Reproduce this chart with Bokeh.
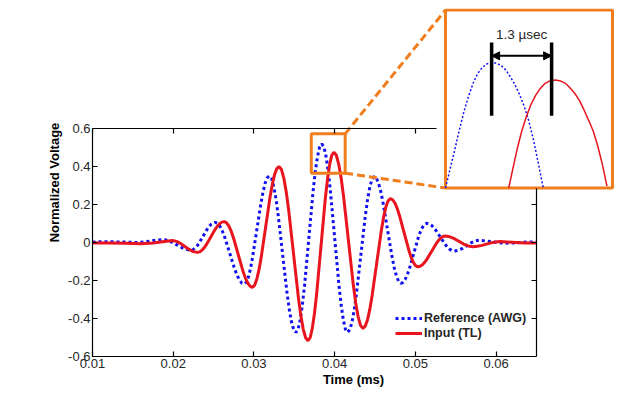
from bokeh.plotting import figure
from bokeh.models import (Range1d, LinearAxis, FixedTicker, Label, Arrow, NormalHead)
from bokeh.embed import file_html
from bokeh.resources import INLINE

# ---------------- data ----------------
ref_t = [0.0100, 0.0120, 0.0140, 0.0155, 0.0165, 0.0175, 0.0187, 0.01899, 0.01928, 0.01958,
         0.01987, 0.02045, 0.02103, 0.02133, 0.02162, 0.02191, 0.0222, 0.02245, 0.0227, 0.02295,
         0.0232, 0.0237, 0.0242, 0.02445, 0.0247, 0.02495, 0.0252, 0.0255, 0.0258, 0.0261,
         0.0264, 0.0270, 0.0276, 0.0279, 0.0282, 0.0285, 0.0288, 0.02906, 0.02932, 0.02958,
         0.02983, 0.03035, 0.03087, 0.03113, 0.03138, 0.03164, 0.0319, 0.03218, 0.03245, 0.03273,
         0.0330, 0.03355, 0.0341, 0.03438, 0.03465, 0.03493, 0.0352, 0.03547, 0.03573, 0.0360,
         0.03627, 0.0368, 0.03733, 0.0376, 0.03787, 0.03813, 0.0384, 0.03867, 0.03893, 0.0392,
         0.03947, 0.0400, 0.04053, 0.0408, 0.04107, 0.04133, 0.0416, 0.04188, 0.04215, 0.04243,
         0.0427, 0.04325, 0.0438, 0.04408, 0.04435, 0.04463, 0.0449, 0.04518, 0.04545, 0.04573,
         0.0460, 0.04655, 0.0471, 0.04738, 0.04765, 0.04793, 0.0482, 0.04847, 0.04873, 0.0490,
         0.04927, 0.0498, 0.05033, 0.0506, 0.05087, 0.05113, 0.0514, 0.05168, 0.05197, 0.05225,
         0.05253, 0.0531, 0.05367, 0.05395, 0.05423, 0.05452, 0.0548, 0.05532, 0.05583, 0.05635,
         0.05687, 0.05738, 0.0579, 0.0595, 0.0610, 0.0625, 0.0640, 0.0650]
ref_v = [0.003, 0.004, 0.002, 0.000, 0.004, 0.010, 0.015, 0.0141, 0.011, 0.007,
         0.001, -0.0125, -0.026, -0.032, -0.036, -0.039, -0.040, -0.0375, -0.030, -0.0187,
         -0.0035, 0.033, 0.0695, 0.0847, 0.096, 0.1035, 0.106, 0.1005, 0.084, 0.0585,
         0.025, -0.0565, -0.138, -0.1716, -0.197, -0.2135, -0.219, -0.2093, -0.181, -0.1359,
         -0.077, 0.0655, 0.208, 0.2669, 0.312, 0.3403, 0.350, 0.336, 0.295, 0.2298,
         0.144, -0.0615, -0.267, -0.3528, -0.418, -0.459, -0.473, -0.456, -0.407, -0.328,
         -0.225, 0.023, 0.271, 0.374, 0.4525, 0.502, 0.519, 0.502, 0.453, 0.374,
         0.271, 0.023, -0.225, -0.328, -0.407, -0.456, -0.473, -0.459, -0.418, -0.353,
         -0.268, -0.063, 0.142, 0.2273, 0.292, 0.333, 0.347, 0.3374, 0.309, 0.265,
         0.2065, 0.066, -0.0745, -0.133, -0.177, -0.2054, -0.215, -0.2096, -0.194, -0.1689,
         -0.136, -0.057, 0.022, 0.0549, 0.080, 0.0956, 0.101, 0.0985, 0.091, 0.0797,
         0.0645, 0.028, -0.0085, -0.0237, -0.035, -0.0425, -0.045, -0.041, -0.031, -0.0165,
         -0.002, 0.008, 0.012, 0.004, -0.004, -0.002, 0.003, 0.002]

inp_t = [0.0100, 0.0120, 0.0140, 0.0160, 0.0175, 0.0187, 0.0199, 0.02042, 0.02093, 0.02145,
         0.02197, 0.02248, 0.0230, 0.02328, 0.02355, 0.02383, 0.0241, 0.02465, 0.0252, 0.02548,
         0.02575, 0.02603, 0.0263, 0.02659, 0.02688, 0.02718, 0.02747, 0.02805, 0.02863, 0.02893,
         0.02922, 0.02951, 0.0298, 0.03008, 0.03035, 0.03063, 0.0309, 0.03145, 0.0320, 0.03228,
         0.03255, 0.03283, 0.0331, 0.0334, 0.0337, 0.0340, 0.0343, 0.0349, 0.0355, 0.0358,
         0.0361, 0.0364, 0.0367, 0.03697, 0.03723, 0.0375, 0.03777, 0.0383, 0.03883, 0.0391,
         0.03937, 0.03963, 0.0399, 0.0402, 0.0405, 0.0408, 0.0411, 0.0417, 0.0423, 0.0426,
         0.0429, 0.0432, 0.0435, 0.04378, 0.04407, 0.04435, 0.04463, 0.0452, 0.04577, 0.04605,
         0.04633, 0.04662, 0.0469, 0.04718, 0.04747, 0.04775, 0.04803, 0.0486, 0.04917, 0.04945,
         0.04973, 0.05002, 0.0503, 0.05058, 0.05087, 0.05115, 0.05143, 0.0520, 0.05257, 0.05285,
         0.05313, 0.05342, 0.0537, 0.05427, 0.05483, 0.0554, 0.05597, 0.05653, 0.0571, 0.05767,
         0.05823, 0.0588, 0.05937, 0.05993, 0.0605, 0.0620, 0.0635, 0.0650]
inp_v = [-0.003, -0.002, -0.004, -0.006, -0.003, 0.004, 0.010, 0.006, -0.0055, -0.021,
         -0.0365, -0.048, -0.052, -0.0492, -0.041, -0.0283, -0.0115, 0.029, 0.0695, 0.0863,
         0.099, 0.1073, 0.110, 0.1041, 0.087, 0.0595, 0.0235, -0.063, -0.1495, -0.1855,
         -0.213, -0.2301, -0.236, -0.2252, -0.193, -0.1431, -0.077, 0.082, 0.241, 0.3071,
         0.357, 0.3892, 0.400, 0.3844, 0.339, 0.2661, 0.171, -0.0585, -0.288, -0.3831,
         -0.4555, -0.5014, -0.517, -0.5001, -0.451, -0.3722, -0.269, -0.021, 0.227, 0.3302,
         0.4085, 0.4581, 0.475, 0.4592, 0.413, 0.3397, 0.243, 0.0115, -0.220, -0.3167,
         -0.390, -0.4363, -0.452, -0.4404, -0.406, -0.3523, -0.281, -0.1105, 0.060, 0.1313,
         0.185, 0.2194, 0.231, 0.2249, 0.207, 0.1786, 0.141, 0.0515, -0.038, -0.0756,
         -0.104, -0.1219, -0.128, -0.1252, -0.117, -0.1043, -0.0875, -0.047, -0.0065, 0.0103,
         0.023, 0.0313, 0.034, 0.030, 0.020, 0.006, -0.008, -0.018, -0.022, -0.020,
         -0.015, -0.0085, -0.002, 0.003, 0.005, 0.001, -0.003, -0.002]

# zoomed inset (time in microseconds)
zoom_ref_t = [37.40, 37.50, 37.60, 37.70, 37.80, 37.90, 38.00, 38.10, 38.20, 38.30,
              38.40, 38.50, 38.60, 38.70, 38.80, 38.90, 39.00, 39.10, 39.20, 39.30,
              39.40, 39.52]
zoom_ref_v = [0.200, 0.250, 0.300, 0.352, 0.400, 0.440, 0.475, 0.500, 0.516, 0.525,
              0.528, 0.527, 0.521, 0.510, 0.492, 0.472, 0.446, 0.416, 0.378, 0.330,
              0.272, 0.200]
zoom_inp_t = [38.77, 38.85, 38.95, 39.05, 39.15, 39.25, 39.35, 39.45, 39.55, 39.65,
              39.78, 39.90, 40.00, 40.10, 40.20, 40.30, 40.40, 40.50, 40.60, 40.70,
              40.80, 40.90]
zoom_inp_v = [0.200, 0.245, 0.300, 0.348, 0.386, 0.418, 0.442, 0.460, 0.473, 0.480,
              0.483, 0.480, 0.474, 0.462, 0.448, 0.430, 0.405, 0.378, 0.350, 0.310,
              0.262, 0.205]

peak_ref_us = 38.40
peak_inp_us = 39.70
delay_label = "1.3 \u00b5sec"

x_ticks = [0.01, 0.02, 0.03, 0.04, 0.05, 0.06]
x_tick_labels = ["0.01", "0.02", "0.03", "0.04", "0.05", "0.06"]
y_ticks = [-0.6, -0.4, -0.2, 0, 0.2, 0.4, 0.6]
y_tick_labels = ["-0.6", "-0.4", "-0.2", "0", "0.2", "0.4", "0.6"]

x_lim = (0.01, 0.065)
y_lim = (-0.6, 0.6)
zoom_box_t = (0.0371, 0.0413)       # region magnified in the inset (ms)
zoom_box_v = (0.365, 0.572)
inset_t = (37.40, 41.02)            # inset window (microseconds)
inset_v = (0.200, 0.666)

# ---------------- layout (pixels) ----------------
W, H = 630, 393
BL, BB, BT = 92, 37, 8
FW, FH = 522, 348          # frame size
AXW, AXH = 444, 228        # main axes box size
INS_L, INS_R = 353, 520    # inset box in frame px (from left)
INS_B, INS_T = 168.5, 346.5  # inset box in frame px (from bottom)

ORANGE = "#f07d1e"
BLUE = "#1010f0"
RED = "#e8141e"
TXT = "#262626"
FONT = "Liberation Sans"

sx = (x_lim[1] - x_lim[0]) / AXW
sy = (y_lim[1] - y_lim[0]) / AXH
x_range = Range1d(x_lim[0], x_lim[0] + FW * sx)
y_range = Range1d(y_lim[0], y_lim[0] + FH * sy)

isx = (inset_t[1] - inset_t[0]) / (INS_R - INS_L)
isy = (inset_v[1] - inset_v[0]) / (INS_T - INS_B)

p = figure(width=W, height=H, x_range=x_range, y_range=y_range,
           output_backend="svg", toolbar_location=None,
           min_border_left=BL, min_border_bottom=BB, min_border_top=BT,
           min_border_right=W - BL - FW)
p.extra_x_ranges = {"ix": Range1d(inset_t[0] - INS_L * isx, inset_t[0] + (FW - INS_L) * isx)}
p.extra_y_ranges = {"iy": Range1d(inset_v[0] - INS_B * isy, inset_v[0] + (FH - INS_B) * isy)}
p.outline_line_color = None
p.grid.grid_line_color = None
p.background_fill_color = "white"
p.border_fill_color = "white"

def main_x(px):
    return x_lim[0] + px * sx

def main_y(py):
    return y_lim[0] + py * sy

def style_axis(ax, ticks, labels):
    ax.ticker = FixedTicker(ticks=ticks)
    ax.major_label_overrides = {t: l for t, l in zip(ticks, labels)}
    ax.major_tick_in = 5
    ax.major_tick_out = 0
    ax.minor_tick_line_color = None
    ax.axis_line_color = "black"
    ax.major_tick_line_color = "black"
    ax.axis_line_width = 1.2
    ax.major_tick_line_width = 1.2
    ax.major_label_text_font = FONT
    ax.major_label_text_color = TXT
    ax.major_label_text_font_size = "13px"
    ax.major_label_standoff = 2
    ax.axis_label_text_font = FONT
    ax.axis_label_text_font_style = "bold"
    ax.axis_label_text_font_size = "13px"
    ax.axis_label_text_color = "black"

xa = p.xaxis[0]
ya = p.yaxis[0]
style_axis(xa, x_ticks, x_tick_labels)
style_axis(ya, y_ticks, y_tick_labels)
xa.bounds = x_lim
ya.bounds = y_lim
xa.axis_label = "Time (ms)"
ya.axis_label = "Normalized Voltage"
xa.axis_label_standoff = 1
ya.axis_label_standoff = 3

# top and right frame edges (labels blank), stopping where the inset covers them
top_end = main_x(INS_L - 9)
top_ticks = [t for t in x_ticks if t <= top_end]
top_ax = LinearAxis(fixed_location=y_lim[1], bounds=(x_lim[0], top_end))
style_axis(top_ax, top_ticks, ["" for _ in top_ticks])
p.add_layout(top_ax, "above")
right_end = main_y(INS_B)
right_ticks = [t for t in y_ticks if t <= right_end]
right_ax = LinearAxis(fixed_location=x_lim[1], bounds=(y_lim[0], right_end))
style_axis(right_ax, right_ticks, ["" for _ in right_ticks])
p.add_layout(right_ax, "right")

# main curves
p.line(ref_t, ref_v, line_color=BLUE, line_width=3, line_dash="3 3",
       legend_label="Reference (AWG)")
p.line(inp_t, inp_v, line_color=RED, line_width=3, legend_label="Input (TL)")

# zoom rectangle in main axes
p.quad(left=zoom_box_t[0], right=zoom_box_t[1], bottom=zoom_box_v[0], top=zoom_box_v[1],
       fill_color=None, line_color=ORANGE, line_width=3)

# inset box (white) in inset coordinates
p.quad(left=inset_t[0], right=inset_t[1], bottom=inset_v[0], top=inset_v[1],
       fill_color="white", line_color=ORANGE, line_width=3,
       x_range_name="ix", y_range_name="iy")

# connectors
ix_left_main = main_x(INS_L)
iy_top_main = main_y(INS_T)
iy_bot_main = main_y(INS_B)
p.segment(x0=[zoom_box_t[1], zoom_box_t[1]], y0=[zoom_box_v[1], zoom_box_v[0]],
          x1=[ix_left_main, ix_left_main], y1=[iy_top_main, iy_bot_main],
          line_color=ORANGE, line_width=3, line_dash="8 4")

# inset curves
p.line(zoom_ref_t, zoom_ref_v, line_color=BLUE, line_width=1.5, line_dash="2 2",
       x_range_name="ix", y_range_name="iy")
p.line(zoom_inp_t, zoom_inp_v, line_color=RED, line_width=1.5,
       x_range_name="ix", y_range_name="iy")

# delay markers
bar_bottom, bar_top = 0.389, 0.581
p.segment(x0=[peak_ref_us, peak_inp_us], y0=[bar_bottom, bar_bottom],
          x1=[peak_ref_us, peak_inp_us], y1=[bar_top, bar_top],
          line_color="black", line_width=3.5, x_range_name="ix", y_range_name="iy")
arrow_y = 0.546
p.add_layout(Arrow(x_start=peak_ref_us, y_start=arrow_y, x_end=peak_inp_us, y_end=arrow_y,
                   line_color="black", line_width=2,
                   start=NormalHead(size=8, fill_color="black", line_color="black"),
                   end=NormalHead(size=8, fill_color="black", line_color="black"),
                   x_range_name="ix", y_range_name="iy"))
p.add_layout(Label(x=(peak_ref_us + peak_inp_us) / 2, y=0.601, text=delay_label,
                   x_range_name="ix", y_range_name="iy",
                   text_align="center", text_baseline="middle",
                   text_font=FONT, text_font_size="13.5px", text_color=TXT))

# legend
lg = p.legend[0]
lg.location = (303, 16)
lg.padding = 0
lg.margin = 0
lg.spacing = 1
lg.glyph_width = 27
lg.glyph_height = 14
lg.label_height = 14
lg.label_standoff = 2
lg.border_line_color = None
lg.background_fill_alpha = 0
lg.label_text_font = FONT
lg.label_text_font_style = "bold"
lg.label_text_font_size = "12.5px"
lg.label_text_color = TXT

open("out.html", "w").write(file_html(p, INLINE))
